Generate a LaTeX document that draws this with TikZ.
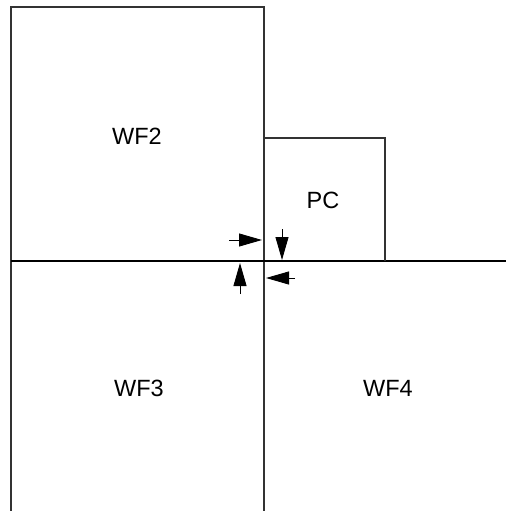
\documentclass[tikz,border=0pt]{standalone}
\usepackage{fontspec}
\setmainfont{Liberation Sans}
\usetikzlibrary{arrows.meta}
\begin{document}
\begin{tikzpicture}[x=1pt,y=-1pt,
  wall/.style={line width=1.2pt,draw=black!80},
  lbl/.style={font=\fontsize{23.5}{28}\selectfont},
  gap/.style={line width=0.9pt,-{Triangle[length=23pt,width=13pt]}}]
\useasboundingbox (0,0) rectangle (506,511);
% outline
\draw[wall] (11,511) -- (11,7) -- (264,7) -- (264,511);
\draw[wall,line width=1.6pt,draw=black] (11,261) -- (264,261);
\draw[wall,draw=black] (264,261) -- (506,261);
\draw[wall] (264,138) -- (385,138) -- (385,261);
% labels
\node[lbl] (wf2) at (137,136) {WF2};
\node[lbl] (pc) at (323,200) {PC};
\node[lbl] (wf3) at (139,388) {WF3};
\node[lbl] (wf4) at (388,388) {WF4};
% gap arrows
\coordinate (a1s) at (229,240); \coordinate (a1e) at (262,240);
\coordinate (a2s) at (282,229); \coordinate (a2e) at (282,260);
\coordinate (a3s) at (240,294); \coordinate (a3e) at (240,263);
\coordinate (a4s) at (295,278); \coordinate (a4e) at (266,278);
\draw[gap] (a1s) -- (a1e);
\draw[gap] (a2s) -- (a2e);
\draw[gap] (a3s) -- (a3e);
\draw[gap] (a4s) -- (a4e);
\end{tikzpicture}
\end{document}
